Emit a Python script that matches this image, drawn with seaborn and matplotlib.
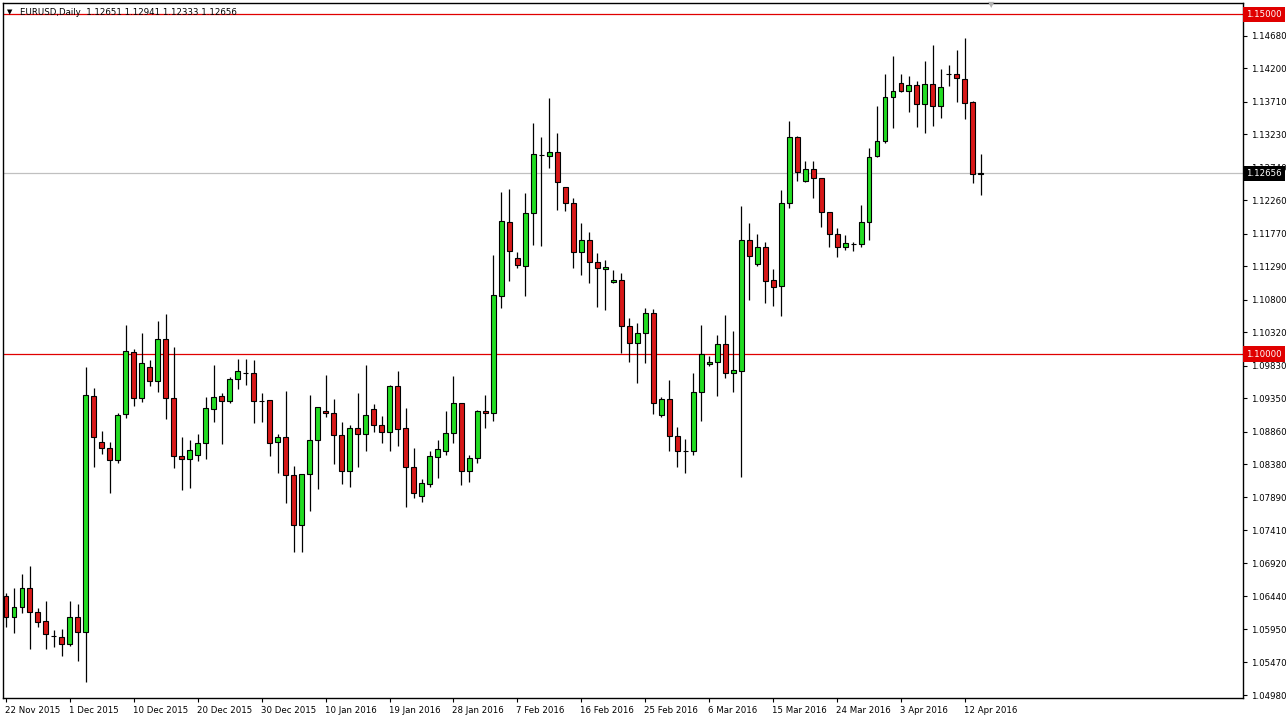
import numpy as np
import matplotlib
matplotlib.use("Agg")
import matplotlib.pyplot as plt
import matplotlib.transforms as mtransforms
import seaborn as sns

# EURUSD daily candles, 22 Nov 2015 .. 13 Apr 2016
opens = [1.06441, 1.06132, 1.06279, 1.06559, 1.06206, 1.06074, 1.05853, 1.05838, 1.05735, 1.06132,
         1.05912, 1.09382, 1.08706, 1.08618, 1.08441, 1.09118, 1.10029, 1.09353, 1.09809, 1.09603,
         1.10221, 1.09353, 1.08500, 1.08456, 1.08515, 1.08691, 1.09191, 1.09382, 1.09309, 1.09632,
         1.09721, 1.09721, 1.09309, 1.09324, 1.08706, 1.08779, 1.08221, 1.07485, 1.08235, 1.08735,
         1.09162, 1.09132, 1.08809, 1.08279, 1.08912, 1.08824, 1.09191, 1.08956, 1.08853, 1.09529,
         1.08912, 1.08338, 1.07912, 1.08088, 1.08485, 1.08574, 1.08838, 1.09279, 1.08279, 1.08471,
         1.09162, 1.09132, 1.10853, 1.11941, 1.11412, 1.11294, 1.12074, 1.12926, 1.12912, 1.12971,
         1.12456, 1.12221, 1.11500, 1.11676, 1.11353, 1.11250, 1.11059, 1.11088, 1.10412, 1.10162,
         1.10309, 1.10603, 1.09103, 1.09338, 1.08794, 1.08574, 1.08574, 1.09441, 1.09853, 1.09882,
         1.10147, 1.09721, 1.09750, 1.11676, 1.11324, 1.11574, 1.11088, 1.11000, 1.12221, 1.13191,
         1.12544, 1.12721, 1.12588, 1.12088, 1.11765, 1.11574, 1.11618, 1.11618, 1.11941, 1.12912,
         1.13132, 1.13779, 1.13985, 1.13868, 1.13956, 1.13676, 1.13971, 1.13647, 1.14118, 1.14118,
         1.14044, 1.13706, 1.12651]
highs = [1.06485, 1.06559, 1.06765, 1.06882, 1.06265, 1.06368, 1.05941, 1.05956, 1.06368, 1.06324,
         1.09809, 1.09500, 1.08868, 1.08706, 1.09132, 1.10426, 1.10074, 1.10309, 1.09912, 1.10485,
         1.10588, 1.10103, 1.08779, 1.08735, 1.08824, 1.09368, 1.09838, 1.09426, 1.09662, 1.09926,
         1.09926, 1.09912, 1.09426, 1.09324, 1.08824, 1.09456, 1.08353, 1.08235, 1.09397, 1.09221,
         1.09691, 1.09338, 1.09000, 1.08956, 1.09426, 1.09838, 1.09265, 1.09088, 1.09544, 1.09750,
         1.09206, 1.08618, 1.08162, 1.08574, 1.08735, 1.09162, 1.09676, 1.09279, 1.08515, 1.09176,
         1.09397, 1.11456, 1.12382, 1.12426, 1.11500, 1.12368, 1.13397, 1.13191, 1.13765, 1.13250,
         1.12456, 1.12294, 1.11926, 1.11794, 1.11485, 1.11382, 1.11235, 1.11191, 1.10529, 1.10456,
         1.10676, 1.10662, 1.09368, 1.09618, 1.08926, 1.08750, 1.09721, 1.10426, 1.09971, 1.10279,
         1.10574, 1.10338, 1.12176, 1.11926, 1.11765, 1.11647, 1.11250, 1.12412, 1.13426, 1.13206,
         1.12838, 1.12838, 1.12588, 1.12088, 1.11853, 1.11750, 1.11647, 1.12191, 1.13029, 1.13647,
         1.14118, 1.14382, 1.14118, 1.14088, 1.14015, 1.14309, 1.14544, 1.14191, 1.14250, 1.14471,
         1.14647, 1.13721, 1.12941]
lows = [1.05985, 1.05897, 1.06191, 1.05662, 1.05985, 1.05662, 1.05691, 1.05559, 1.05706, 1.05485,
        1.05176, 1.08338, 1.08529, 1.07956, 1.08397, 1.09059, 1.09235, 1.09294, 1.09529, 1.09441,
        1.09044, 1.08324, 1.08000, 1.08029, 1.08426, 1.08456, 1.09000, 1.08676, 1.09279, 1.09485,
        1.09544, 1.08985, 1.09000, 1.08500, 1.08250, 1.07809, 1.07088, 1.07088, 1.07691, 1.08015,
        1.09074, 1.08382, 1.08088, 1.08044, 1.08338, 1.08574, 1.08853, 1.08691, 1.08574, 1.08647,
        1.07750, 1.07882, 1.07824, 1.08044, 1.08176, 1.08515, 1.08691, 1.08074, 1.08118, 1.08397,
        1.08912, 1.09015, 1.10676, 1.11074, 1.11265, 1.10853, 1.11603, 1.11588, 1.12735, 1.12118,
        1.12103, 1.11265, 1.11162, 1.11044, 1.10691, 1.10647, 1.11044, 1.10015, 1.09882, 1.09574,
        1.09868, 1.09118, 1.09074, 1.08574, 1.08338, 1.08250, 1.08515, 1.09015, 1.09824, 1.09382,
        1.09647, 1.09441, 1.08191, 1.10794, 1.11294, 1.10750, 1.10706, 1.10559, 1.12147, 1.12544,
        1.12529, 1.12294, 1.11868, 1.11574, 1.11426, 1.11529, 1.11515, 1.11574, 1.11676, 1.12897,
        1.13103, 1.13324, 1.13853, 1.13559, 1.13338, 1.13250, 1.13353, 1.13471, 1.13941, 1.13706,
        1.13456, 1.12515, 1.12333]
closes = [1.06132, 1.06279, 1.06559, 1.06206, 1.06059, 1.05882, 1.05853, 1.05735, 1.06132, 1.05912,
          1.09397, 1.08779, 1.08618, 1.08441, 1.09103, 1.10044, 1.09353, 1.09868, 1.09603, 1.10221,
          1.09353, 1.08500, 1.08456, 1.08588, 1.08691, 1.09206, 1.09368, 1.09309, 1.09632, 1.09750,
          1.09721, 1.09309, 1.09309, 1.08691, 1.08779, 1.08221, 1.07485, 1.08235, 1.08735, 1.09221,
          1.09132, 1.08809, 1.08279, 1.08912, 1.08824, 1.09103, 1.08956, 1.08853, 1.09529, 1.08897,
          1.08338, 1.07956, 1.08103, 1.08500, 1.08603, 1.08838, 1.09279, 1.08279, 1.08471, 1.09162,
          1.09132, 1.10868, 1.11956, 1.11515, 1.11309, 1.12074, 1.12941, 1.12926, 1.12971, 1.12529,
          1.12221, 1.11500, 1.11676, 1.11353, 1.11265, 1.11279, 1.11088, 1.10412, 1.10162, 1.10309,
          1.10603, 1.09279, 1.09338, 1.08794, 1.08574, 1.08574, 1.09441, 1.10000, 1.09882, 1.10147,
          1.09721, 1.09765, 1.11676, 1.11441, 1.11574, 1.11074, 1.10985, 1.12221, 1.13191, 1.12676,
          1.12721, 1.12588, 1.12088, 1.11765, 1.11574, 1.11632, 1.11618, 1.11941, 1.12897, 1.13132,
          1.13779, 1.13868, 1.13868, 1.13956, 1.13676, 1.13971, 1.13647, 1.13926, 1.14118, 1.14059,
          1.13691, 1.12651, 1.12656]

date_labels = ['22 Nov 2015', '1 Dec 2015', '10 Dec 2015', '20 Dec 2015', '30 Dec 2015',
               '10 Jan 2016', '19 Jan 2016', '28 Jan 2016', '7 Feb 2016', '16 Feb 2016',
               '25 Feb 2016', '6 Mar 2016', '15 Mar 2016', '24 Mar 2016', '3 Apr 2016', '12 Apr 2016']
date_bars = [0, 8, 16, 24, 32, 40, 48, 56, 64, 72, 80, 88, 96, 104, 112, 120]
price_ticks = [1.14680, 1.14200, 1.13710, 1.13230, 1.12740, 1.12260, 1.11770, 1.11290, 1.10800,
               1.10320, 1.09830, 1.09350, 1.08860, 1.08380, 1.07890, 1.07410, 1.06920, 1.06440,
               1.05950, 1.05470, 1.04980]
levels = [1.15000, 1.10000]
last_price = 1.12656
header = "EURUSD,Daily  1.12651 1.12941 1.12333 1.12656"

BULL = "#22dd22"
BEAR = "#d81818"
FS = 6.2

sns.set_style("white")
plt.rcParams['font.family'] = ['DejaVu Sans']

W, H = 1288, 721
fig = plt.figure(figsize=(W / 100, H / 100), dpi=100)
left, right, top, bottom = 3, 1243, 3, 698
ax = fig.add_axes([left / W, 1 - bottom / H, (right - left) / W, (bottom - top) / H])

o = np.array(opens)
h = np.array(highs)
l = np.array(lows)
c = np.array(closes)
x = np.arange(len(o))

ax.vlines(x, l, h, color="black", lw=0.9, zorder=2)
body_colors = np.where(c >= o, BULL, BEAR)
ax.bar(x, np.abs(c - o), bottom=np.minimum(o, c), width=0.62, color=body_colors,
       edgecolor="black", linewidth=0.8, zorder=3)

for lv in levels:
    ax.axhline(lv, color="#e00000", lw=0.9, zorder=1)
ax.axhline(last_price, color="#c0c0c0", lw=0.9, zorder=1)

ax.set_xlim(-0.375, 154.8)
ax.set_ylim(1.04941, 1.15162)

ax.yaxis.tick_right()
ax.set_yticks(price_ticks)
ax.set_yticklabels([f"{v:.5f}" for v in price_ticks])
ax.set_xticks(date_bars)
ax.set_xticklabels(date_labels, ha="left")
ax.tick_params(axis="y", right=True, left=False, direction="out", length=3, width=0.8,
               pad=2.5, labelsize=FS, colors="black")
ax.tick_params(axis="x", bottom=True, direction="out", length=3, width=0.8,
               pad=2.5, labelsize=FS, colors="black")
offset = mtransforms.ScaledTranslation(-1 / 100, 0, fig.dpi_scale_trans)
for lbl in ax.get_xticklabels():
    lbl.set_transform(lbl.get_transform() + offset)

for s in ax.spines.values():
    s.set_color("black")
    s.set_linewidth(1.0)

# price boxes on the right scale
tr = mtransforms.blended_transform_factory(ax.transAxes, ax.transData)
for lv in levels:
    ax.text(1.0027, lv, f"{lv:.5f}", transform=tr, ha="left", va="center", fontsize=FS,
            color="white", zorder=10, clip_on=False,
            bbox=dict(boxstyle="square,pad=0.35", fc="#e00000", ec="none"))
ax.text(1.0027, last_price, f"{last_price:.5f}", transform=tr, ha="left", va="center",
        fontsize=FS, color="white", zorder=10, clip_on=False,
        bbox=dict(boxstyle="square,pad=0.35", fc="black", ec="none"))

fig.text(7 / W, 1 - 12.5 / H, "\u25bc", fontsize=5, color="black", va="center")
fig.text(20 / W, 1 - 12.5 / H, header, fontsize=FS, color="black", va="center")
fig.text(988 / W, 1 - 5 / H, "\u25bc", fontsize=6, color="#b0b0b0", va="center")

fig.savefig("out.png", dpi=100, facecolor="white")
